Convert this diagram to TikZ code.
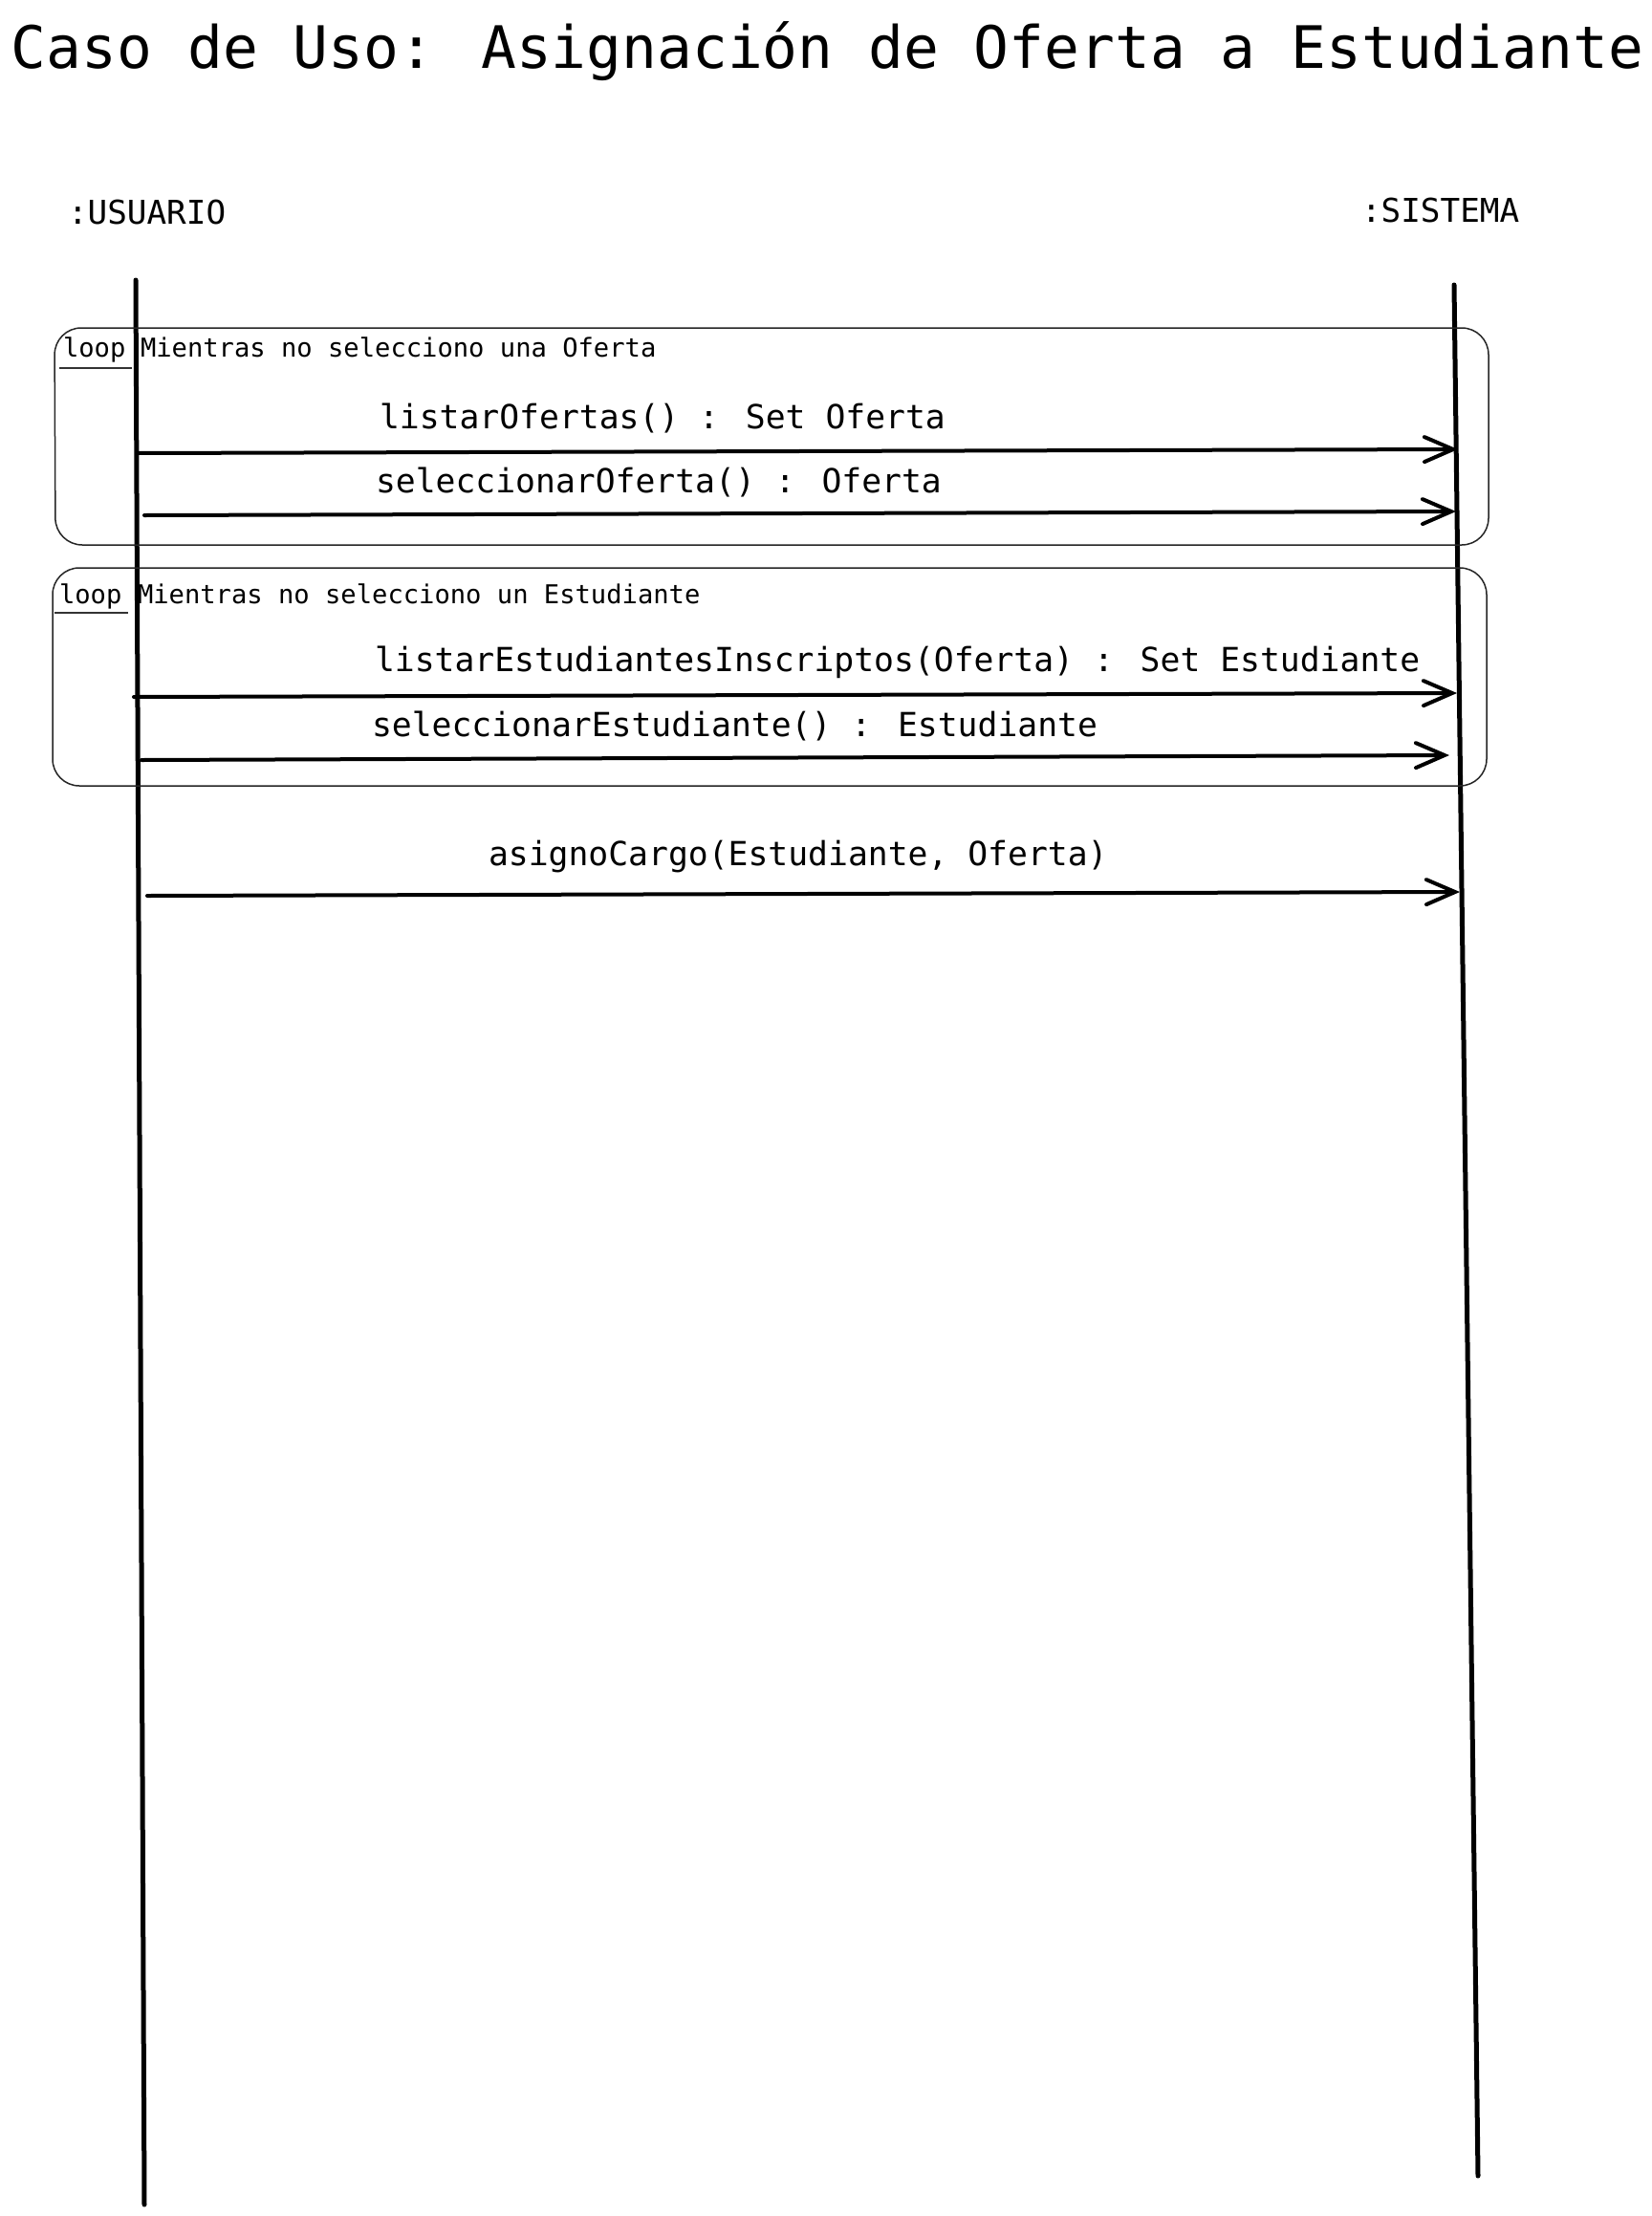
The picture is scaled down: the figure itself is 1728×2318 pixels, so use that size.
\documentclass[tikz,border=0pt]{standalone}
\usepackage{fontspec}
\setmainfont{DejaVu Sans Mono}
\usetikzlibrary{arrows.meta}
\tikzset{
  txt/.style={anchor=base west, inner sep=0pt, outer sep=0pt, text=black},
  titletxt/.style={txt, font=\fontsize{61.2}{70}\selectfont},
  actortxt/.style={txt, font=\fontsize{34.3}{40}\selectfont},
  looptxt/.style={txt, font=\fontsize{27.15}{32}\selectfont},
  msgtxt/.style={txt, font=\fontsize{34.7}{42}\selectfont},
  lifeline/.style={line width=5pt, line cap=round, black},
  msgarrow/.style={line width=4pt, line cap=round, black,
     -{Straight Barb[length=30pt,width=26pt,line cap=round]}},
  loopbox/.style={line width=1.5pt, black!85, rounded corners=28pt},
  tagline/.style={line width=1.5pt, black!80}
}
\begin{document}
\begin{tikzpicture}[x=1pt,y=-1pt]
\useasboundingbox[fill=white] (0,0) rectangle (1728,2318);

% title
\node[titletxt] (title) at (12,71) {Caso de Uso: Asignación de Oferta a Estudiante};

% actors
\node[actortxt] (usuario) at (71,234) {:USUARIO};
\node[actortxt] (sistema) at (1424,232) {:SISTEMA};

% lifelines
\coordinate (uTop) at (142,293);
\coordinate (uBot) at (151,2306);
\coordinate (sTop) at (1521,298);
\coordinate (sBot) at (1546,2276);
\draw[lifeline] (uTop) -- (uBot);
\draw[lifeline] (sTop) -- (sBot);

% loop 1
\draw[loopbox] (57,343) -- (1557,343) -- (1557,570) -- (58,570) -- cycle;
\node[looptxt] (loop1tag) at (66,373) {loop};
\coordinate (l1a) at (62,385);
\coordinate (l1b) at (138,385);
\draw[tagline] (l1a) -- (l1b);
\node[looptxt] (loop1cond) at (147,373) {Mientras no selecciono una Oferta};

% loop 2
\draw[loopbox] (55,594) -- (1555,594) -- (1555,822) -- (55,822) -- cycle;
\node[looptxt] (loop2tag) at (62,631) {loop};
\coordinate (l2a) at (57,641);
\coordinate (l2b) at (134,641);
\draw[tagline] (l2a) -- (l2b);
\node[looptxt] (loop2cond) at (144,631) {Mientras no selecciono un Estudiante};

% messages
\node[msgtxt] (m1) at (397,448) {listarOfertas() : Set Oferta};
\coordinate (m1s) at (143,474);
\coordinate (m1e) at (1525,470);
\draw[msgarrow] (m1s) -- (m1e);

\node[msgtxt] (m2) at (393,515) {seleccionarOferta() : Oferta};
\coordinate (m2s) at (151,539);
\coordinate (m2e) at (1523,535);
\draw[msgarrow] (m2s) -- (m2e);

\node[msgtxt] (m3) at (392,702) {listarEstudiantesInscriptos(Oferta) : Set Estudiante};
\coordinate (m3s) at (140,729);
\coordinate (m3e) at (1524,725);
\draw[msgarrow] (m3s) -- (m3e);

\node[msgtxt] (m4) at (389,770) {seleccionarEstudiante() : Estudiante};
\coordinate (m4s) at (148,795);
\coordinate (m4e) at (1516,790);
\draw[msgarrow] (m4s) -- (m4e);

\node[msgtxt] (m5) at (511,905) {asignoCargo(Estudiante, Oferta)};
\coordinate (m5s) at (154,937);
\coordinate (m5e) at (1527,933);
\draw[msgarrow] (m5s) -- (m5e);
\end{tikzpicture}
\end{document}
